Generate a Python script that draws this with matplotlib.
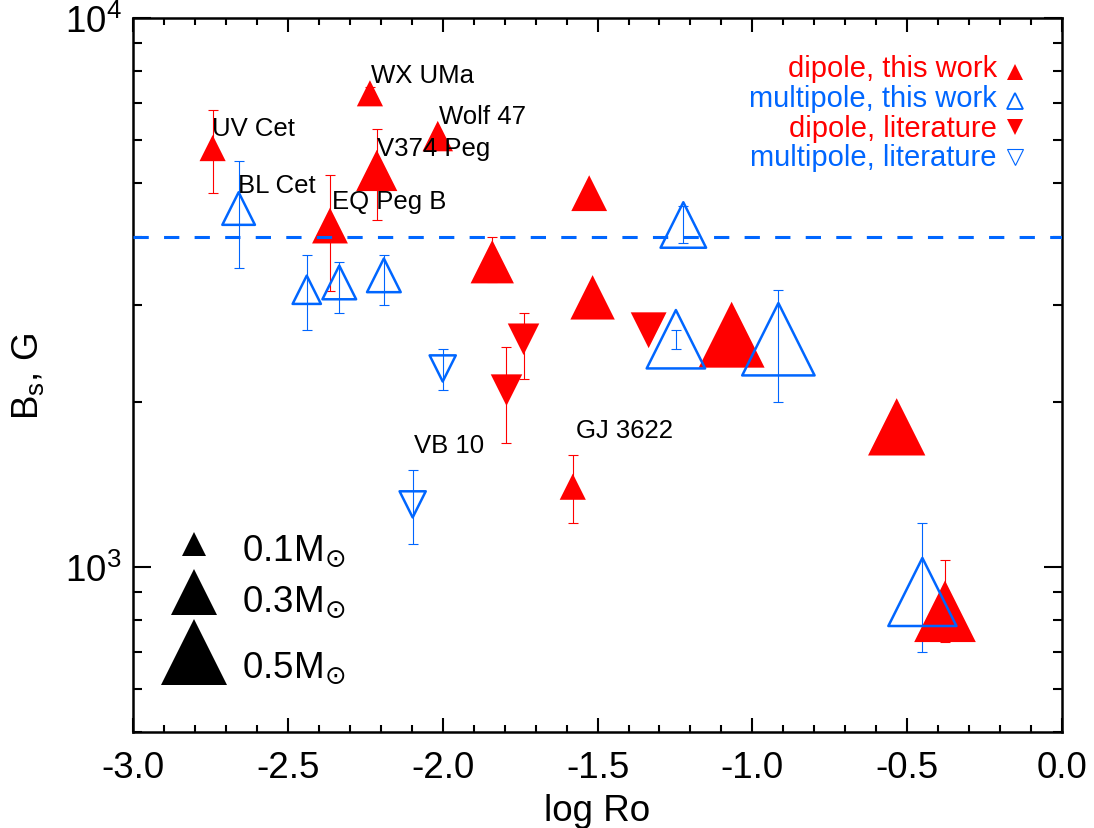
import numpy as np
import matplotlib
matplotlib.use("Agg")
import matplotlib.pyplot as plt
from matplotlib.ticker import MultipleLocator, LogLocator, NullFormatter, FuncFormatter

plt.rcParams['font.family'] = ['Liberation Sans', 'DejaVu Sans']
plt.rcParams['mathtext.fontset'] = 'dejavusans'
plt.rcParams['axes.unicode_minus'] = False

# dipole fields, this work
dip_logro = [-2.743, -2.235, -2.016, -2.213, -2.364, -1.840, -1.527, -1.516, -1.067, -0.534, -0.378, -1.580]
dip_b = [5800, 7300, 6100, 5280, 4190, 3600, 4800, 3100, 2650, 1800, 830, 1400]
dip_err_lo = [1000, 210, 0, 1000, 1000, 300, 0, 0, 0, 0, 100, 200]
dip_err_hi = [1000, 210, 0, 1000, 1000, 400, 0, 0, 0, 0, 200, 200]
dip_mass = [0.12, 0.12, 0.16, 0.26, 0.21, 0.28, 0.21, 0.29, 0.49, 0.41, 0.45, 0.12]

# multipole fields, this work
mul_logro = [-2.659, -2.439, -2.334, -2.190, -1.223, -1.247, -0.916, -0.451]
mul_b = [4500, 3200, 3300, 3400, 4200, 2600, 2600, 900]
mul_err_lo = [1000, 500, 400, 400, 300, 100, 600, 200]
mul_err_hi = [1000, 500, 300, 300, 350, 100, 600, 300]
mul_mass = [0.18, 0.14, 0.19, 0.19, 0.30, 0.42, 0.55, 0.51]

# dipole fields, literature
dlit_logro = [-1.794, -1.739, -1.335]
dlit_b = [2100, 2600, 2700]
dlit_err_lo = [420, 400, 0]
dlit_err_hi = [420, 300, 0]
dlit_mass = [0.17, 0.17, 0.21]

# multipole fields, literature
mlit_logro = [-2.000, -2.097]
mlit_b = [2300, 1300]
mlit_err_lo = [200, 200]
mlit_err_hi = [200, 200]
mlit_mass = [0.12, 0.12]

b_threshold = 4000
key_masses = [0.1, 0.3, 0.5]

star_names = ['UV Cet', 'WX UMa', 'Wolf 47', 'V374 Peg', 'BL Cet', 'EQ Peg B', 'VB 10', 'GJ 3622']
name_pos = [(-2.746, 6127), (-2.231, 7645), (-2.011, 6435), (-2.211, 5632),
            (-2.662, 4829), (-2.358, 4510), (-2.093, 1617), (-1.570, 1722)]

RED = '#ff0000'
BLUE = '#0066ff'
PX = 0.72  # points per pixel at 100 dpi


def tri_size(m):
    # triangle side (points) grows linearly with stellar mass
    return (13.25 + 107.5 * np.asarray(m)) * PX


fig = plt.figure(figsize=(10.94, 8.29), dpi=100)
ax = fig.add_axes([0.1216, 0.1158, 0.8492, 0.8609])

ax.set_xlim(-3.0, 0.0)
ax.set_yscale('log')
ax.set_ylim(500, 1e4)

ax.axhline(b_threshold, color=BLUE, lw=2.2, dashes=(5, 5), zorder=5)

groups = [
    (dip_logro, dip_b, dip_err_lo, dip_err_hi, dip_mass, '^', RED, True),
    (dlit_logro, dlit_b, dlit_err_lo, dlit_err_hi, dlit_mass, 'v', RED, True),
    (mul_logro, mul_b, mul_err_lo, mul_err_hi, mul_mass, '^', BLUE, False),
    (mlit_logro, mlit_b, mlit_err_lo, mlit_err_hi, mlit_mass, 'v', BLUE, False),
]
for x, y, lo, hi, m, mk, col, filled in groups:
    ax.errorbar(x, y, yerr=[lo, hi], fmt='none', ecolor=col, elinewidth=0.8,
                capsize=3.6, capthick=0.8, zorder=2)
    if filled:
        ax.scatter(x, y, s=tri_size(m) ** 2, marker=mk, c=col, linewidths=0, zorder=3)
    else:
        ax.scatter(x, y, s=tri_size(m) ** 2, marker=mk, facecolors='none',
                   edgecolors=col, linewidths=1.8, zorder=4)

for name, (tx, ty) in zip(star_names, name_pos):
    ax.text(tx, ty, name, fontsize=18.5, va='baseline', ha='left', zorder=6)

# symbol key, top right
key_rows = [('dipole, this work', RED, '^', True),
            ('multipole, this work', BLUE, '^', False),
            ('dipole, literature', RED, 'v', True),
            ('multipole, literature', BLUE, 'v', False)]
key_text_y = [0.9196, 0.8775, 0.8355, 0.7944]
key_mark_y = [0.9243, 0.8845, 0.8473, 0.8052]
for (label, col, mk, filled), ty, my in zip(key_rows, key_text_y, key_mark_y):
    ax.text(0.9297, ty, label, color=col, fontsize=21, ha='right', va='baseline',
            transform=ax.transAxes)
    if filled:
        ax.plot(0.9494, my, marker=mk, ms=11.5, color=col, mew=0,
                transform=ax.transAxes, clip_on=False)
    else:
        ax.plot(0.9494, my, marker=mk, ms=11.5, mfc='none', mec=col,
                mew=1.3 if mk == '^' else 0.8, transform=ax.transAxes, clip_on=False)

# mass key, bottom left
mass_mark_y = [0.263, 0.1957, 0.1117]
mass_text_y = [0.2414, 0.170, 0.0775]
for m, my, ty in zip(key_masses, mass_mark_y, mass_text_y):
    ax.plot(0.066, my, marker='^', ms=tri_size(m), color='black', mew=0,
            transform=ax.transAxes)
    ax.text(0.117, ty, f'{m:.1f}M' + r'$_{\odot}$', fontsize=26.5, va='baseline',
            ha='left', transform=ax.transAxes)

ax.xaxis.set_major_locator(MultipleLocator(0.5))
ax.xaxis.set_minor_locator(MultipleLocator(0.1))
ax.xaxis.set_major_formatter(FuncFormatter(lambda v, p: f'{round(v, 1) + 0.0:.1f}'))
ax.yaxis.set_major_locator(LogLocator(base=10))
ax.yaxis.set_minor_locator(LogLocator(base=10, subs=np.arange(2, 10)))
ax.yaxis.set_minor_formatter(NullFormatter())

ax.tick_params(which='both', direction='in', top=True, right=True, width=1.5)
ax.tick_params(axis='x', which='major', length=10, pad=13, labelsize=26.5)
ax.tick_params(axis='x', which='minor', length=5)
ax.tick_params(axis='y', which='major', length=13, pad=8, labelsize=26.5)
ax.tick_params(axis='y', which='minor', length=6.5)
for sp in ax.spines.values():
    sp.set_linewidth(1.8)

ax.set_xlabel('log Ro', fontsize=26.5, labelpad=6)
ax.set_ylabel(r'B$_\mathregular{s}$, G', fontsize=26.5)
ax.yaxis.set_label_coords(-0.093, 0.5)

fig.savefig('out.png', dpi=100)
